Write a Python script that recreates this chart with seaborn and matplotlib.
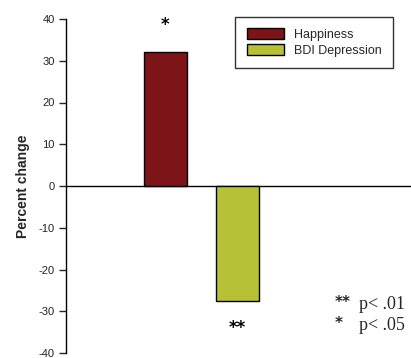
import matplotlib
matplotlib.use("Agg")
import matplotlib.pyplot as plt
import seaborn as sns
import pandas as pd

# data
categories = ["Happiness", "BDI Depression"]
values = [32, -27.5]
stars = ["*", "**"]
colors = ["#7d1418", "#b6c136"]
yticks = [-40, -30, -20, -10, 0, 10, 20, 30, 40]
notes = [("**", "p< .01"), ("*", "p< .05")]

df = pd.DataFrame({"group": categories, "change": values})

sns.set_style("white")
plt.rcParams["font.family"] = ["Liberation Sans", "DejaVu Sans"]
plt.rcParams["axes.unicode_minus"] = False

fig = plt.figure(figsize=(4.11, 3.58), dpi=100)
ax = fig.add_axes([66 / 411, 5 / 358, 345 / 411, 334 / 358])

sns.barplot(data=df, x="group", y="change", hue="group", palette=colors,
            saturation=1, width=0.593, edgecolor="black", linewidth=1,
            dodge=False, legend=True, ax=ax)

ax.set_xlim(-1.366, 3.393)
ax.set_ylim(-40, 40)
ax.set_yticks(yticks)
ax.tick_params(axis="y", labelsize=8, length=5, width=1, direction="out",
               left=True, pad=3, labelcolor="#222222")
ax.set_xticks([])
ax.set_xlabel("")
ax.set_ylabel("Percent change", fontsize=10, fontweight="bold", labelpad=6)
for s in ["top", "right", "bottom"]:
    ax.spines[s].set_visible(False)
ax.spines["left"].set_color("black")
ax.spines["left"].set_linewidth(1)
ax.axhline(0, color="black", lw=1, zorder=0)

# significance stars
for i, (v, st) in enumerate(zip(values, stars)):
    off = 6.6 if v > 0 else -6.6
    ax.text(i, v + off, st, ha="center", va="center", fontsize=12,
            fontweight="bold", color="black", family="DejaVu Sans")

leg = ax.legend(loc="upper right", bbox_to_anchor=(0.948, 1.006), fontsize=9,
                frameon=True, fancybox=False, edgecolor="black",
                handlelength=3.0, handleheight=1.0, borderpad=0.9,
                labelspacing=0.25, handletextpad=0.8, borderaxespad=0)
leg.get_frame().set_linewidth(1)

# p-value footnote
for k, (mark, txt) in enumerate(notes):
    yy = 0.146 - k * 0.063
    ax.text(0.78, yy + 0.005, mark, transform=ax.transAxes, fontsize=11,
            fontweight="bold", family="DejaVu Sans", va="center", ha="left")
    ax.text(0.848, yy, txt, transform=ax.transAxes, fontsize=13,
            family="Liberation Serif", va="center", ha="left")

fig.savefig("out.png", dpi=100)
